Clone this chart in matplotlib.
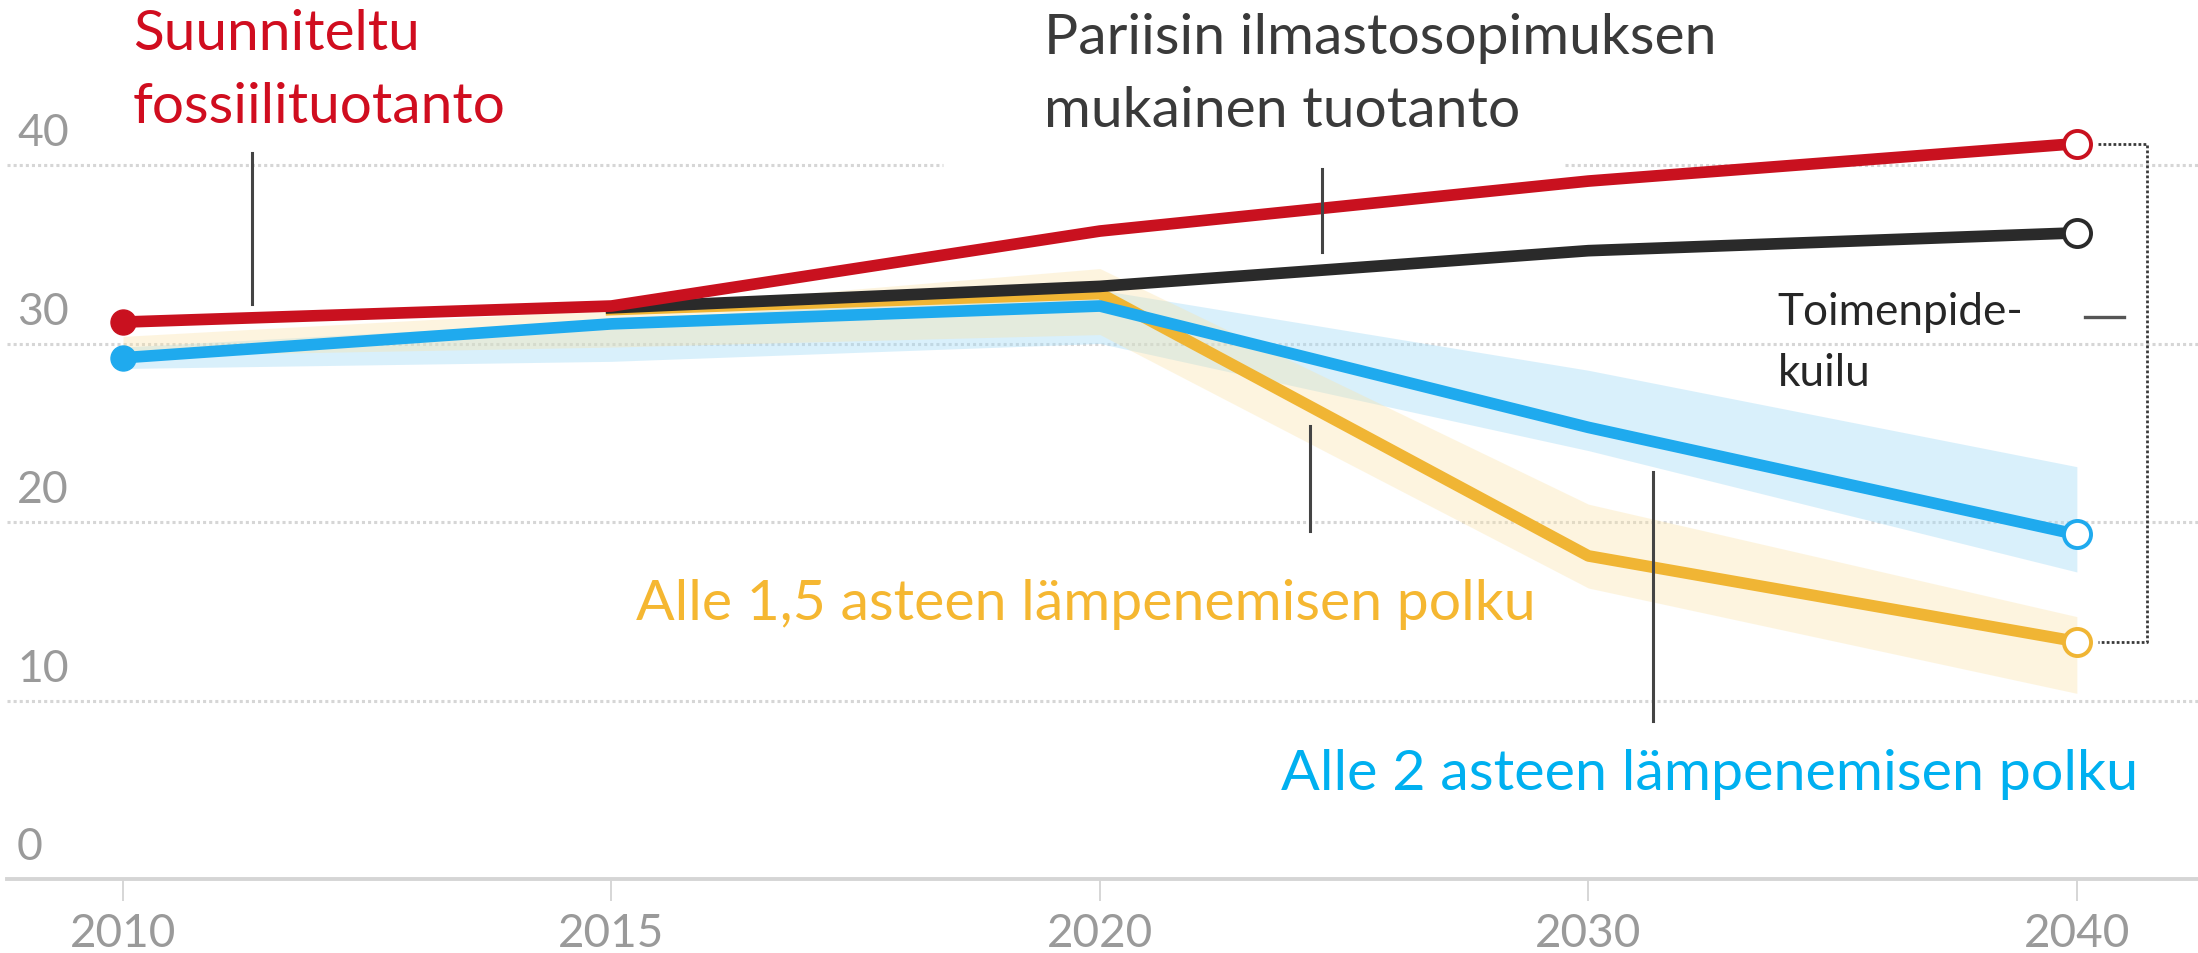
import numpy as np
import matplotlib.pyplot as plt

plt.rcParams['font.family'] = ['Lato', 'DejaVu Sans']

# data (Gt CO2)
years = ['2010', '2015', '2020', '2030', '2040']
planned = [31.2, 32.1, 36.3, 39.1, 41.2]
paris = [np.nan, 32.0, 33.2, 35.2, 36.2]
below_2 = [29.2, 31.1, 32.1, 25.3, 19.3]
below_2_low = [28.6, 29.0, 30.0, 24.0, 17.2]
below_2_high = [29.8, 31.3, 33.0, 28.5, 23.1]
below_15 = [np.nan, 31.9, 32.8, 18.1, 13.3]
below_15_low = [29.3, 29.8, 30.5, 16.3, 10.4]
below_15_high = [30.4, 31.9, 34.2, 21.0, 14.7]
yticks = [0, 10, 20, 30, 40]

RED = '#c9111f'
RED_TXT = '#d00d1f'
BLACK = '#2a2a2a'
BLUE = '#1faaee'
BLUE_TXT = '#00b0f0'
YELLOW = '#f0b534'
YELLOW_TXT = '#f5b731'
GRID = '#d6d6d6'
TICK_TXT = '#9a9a9a'

x = np.arange(len(years))

fig = plt.figure(figsize=(21.98, 9.54), dpi=100)
ax = fig.add_axes([7 / 2198, 74 / 954, 2191 / 2198, 880 / 954])
ax.set_xlim(-0.2375, 4.248)
ax.set_ylim(0, 49.3)

# gridlines (the 40 line is broken in the original)
for v in yticks[1:4]:
    ax.axhline(v, color=GRID, lw=2.2, ls=(0, (1, 1)), zorder=0)
ax.axhline(40, xmin=0, xmax=0.427, color=GRID, lw=2.2, ls=(0, (1, 1)), zorder=0)
ax.axhline(40, xmin=0.711, xmax=1, color=GRID, lw=2.2, ls=(0, (1, 1)), zorder=0)

for v in yticks:
    ax.text(0.0046, v + 1.1, str(v), transform=ax.get_yaxis_transform(),
            fontsize=32, color=TICK_TXT, va='baseline', ha='left')

# uncertainty bands
ax.fill_between(x, below_2_low, below_2_high, color='#a6dcf7', alpha=0.42, lw=0, zorder=1)
ax.fill_between(x, below_15_low, below_15_high, color='#fbe2a6', alpha=0.35, lw=0, zorder=1)

lw = 8.4
ax.plot(x, below_15, color=YELLOW, lw=lw, solid_joinstyle='round', zorder=3)
ax.plot(x, paris, color=BLACK, lw=lw, solid_joinstyle='round', zorder=4)
ax.plot(x, below_2, color=BLUE, lw=lw, solid_joinstyle='round', zorder=5)
ax.plot(x, planned, color=RED, lw=lw, solid_joinstyle='round', zorder=6)

# start and end markers
ax.plot(x[0], planned[0], 'o', ms=18, color=RED, zorder=7)
ax.plot(x[0], below_2[0], 'o', ms=18, color=BLUE, zorder=7)
for series, col in [(planned, RED), (paris, BLACK), (below_2, BLUE), (below_15, YELLOW)]:
    ax.plot(x[-1], series[-1], 'o', ms=19.5, mfc='white', mec=col, mew=2.8, zorder=8)

# action gap bracket
bx0, bx1 = 4.043, 4.143
ax.plot([bx0, bx1, bx1, bx0], [planned[-1], planned[-1], below_15[-1], below_15[-1]],
        color='#3a3a3a', lw=2.0, ls=(0, (1, 0.8)), clip_on=False, zorder=2)
ax.plot([4.016, 4.096], [31.5, 31.5], color='#555555', lw=2.4, zorder=2)

# leader lines
lead = dict(color='#444444', lw=2.2, zorder=9)
ax.plot([0.264, 0.264], [32.2, 40.7], **lead)
ax.plot([2.455, 2.455], [35.1, 39.8], **lead)
ax.plot([2.43, 2.43], [19.5, 25.4], **lead)
ax.plot([3.133, 3.133], [8.85, 22.8], **lead)

# labels, each sized to the width it has in the original
renderer = fig.canvas.get_renderer()


def label(xpos, ypos, s, color, width_px, size=None):
    t = ax.text(xpos, ypos, s, color=color, fontsize=40, va='baseline', ha='left',
                clip_on=False, zorder=10)
    if size is None:
        w = t.get_window_extent(renderer).width
        size = 40 * width_px / w
    t.set_fontsize(size)
    return size


s = label(0.02, 42.4, 'fossiilituotanto', RED_TXT, 372)
label(0.02, 46.5, 'Suunniteltu', RED_TXT, 0, size=s)
s = label(1.885, 46.3, 'Pariisin ilmastosopimuksen', '#3a3a3a', 672)
label(1.885, 42.2, 'mukainen tuotanto', '#3a3a3a', 0, size=s)
s = label(3.387, 31.1, 'Toimenpide-', '#262626', 245)
label(3.387, 27.7, 'kuilu', '#262626', 0, size=s)
label(1.051, 14.57, 'Alle 1,5 asteen lämpenemisen polku', YELLOW_TXT, 898)
label(2.37, 5.04, 'Alle 2 asteen lämpenemisen polku', BLUE_TXT, 855)

# axes styling
for side in ['left', 'right', 'top']:
    ax.spines[side].set_visible(False)
ax.spines['bottom'].set_color('#d5d5d5')
ax.spines['bottom'].set_linewidth(2.8)
ax.set_yticks([])
ax.set_xticks(x, years)
ax.tick_params(axis='x', length=16, width=1.2, color='#d0d0d0', pad=8,
               labelsize=33, labelcolor=TICK_TXT)

fig.savefig('out.png', dpi=100)
